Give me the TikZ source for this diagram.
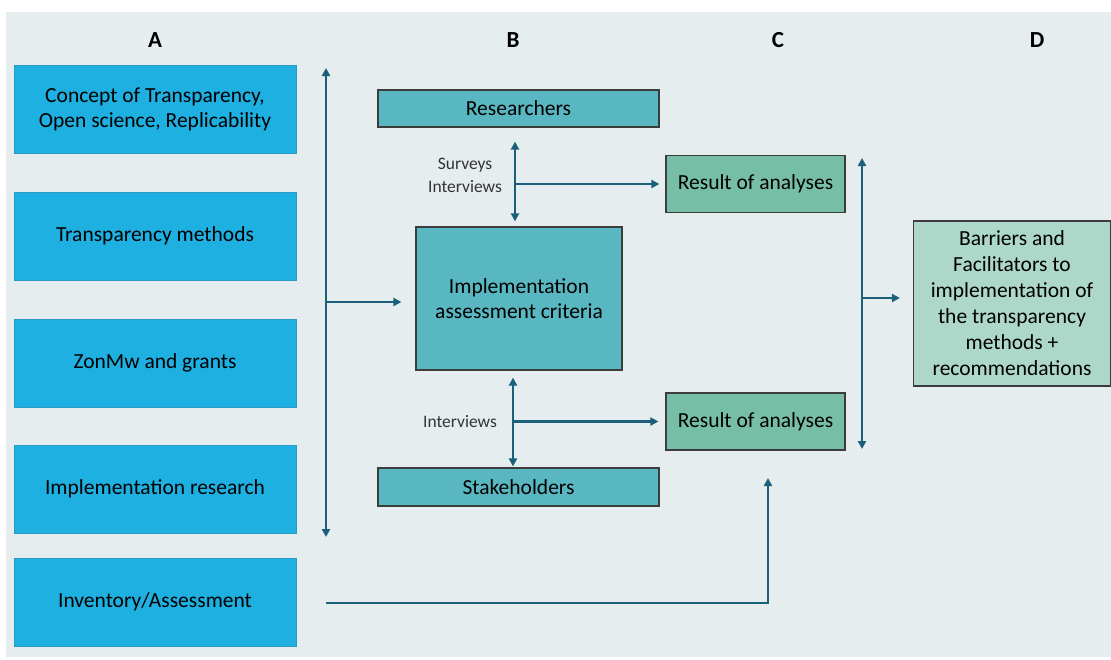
\documentclass[tikz,border=0pt]{standalone}
\usepackage{fontspec}
\setmainfont{Carlito}
\usetikzlibrary{positioning,arrows.meta}

\definecolor{panelbg}{HTML}{E5EDEF}
\definecolor{boxblue}{HTML}{1EB0E0}
\definecolor{edgeblue}{HTML}{2A9BC6}
\definecolor{boxteal}{HTML}{59B7C1}
\definecolor{boxgreen}{HTML}{76BFA6}
\definecolor{boxmint}{HTML}{ADD8C9}
\definecolor{arrowcol}{HTML}{1B5F7A}
\definecolor{edgegrey}{HTML}{3C3C3C}

\tikzset{
    topicbox/.style={draw=edgeblue, line width=1pt, fill=boxblue, minimum width=282pt, minimum height=88pt, align=center, font=\fontsize{21.5}{25.5}\selectfont},
    groupbox/.style={draw=edgegrey, line width=1.2pt, fill=boxteal, align=center, font=\fontsize{21.5}{25.5}\selectfont},
    resultbox/.style={draw=edgegrey, line width=1.2pt, fill=boxgreen, minimum width=179pt, minimum height=57pt, align=center, font=\fontsize{21.5}{25.5}\selectfont},
    colhead/.style={font=\fontsize{23}{27}\selectfont\bfseries},
    smalllabel/.style={align=center, text=black!80, font=\fontsize{17.5}{23}\selectfont},
    link/.style={draw=arrowcol, line width=2.4pt, -{Triangle[length=8pt,width=8pt]}},
    twoway/.style={draw=arrowcol, line width=2.4pt, {Triangle[length=8pt,width=8pt]}-{Triangle[length=8pt,width=8pt]}}
}

\begin{document}
\begin{tikzpicture}[x=1pt, y=-1pt]
        % Page and panel
        \fill[white] (0,0) rectangle (1111,659);
        \useasboundingbox (0,0) rectangle (1111,659);
        \fill[panelbg] (6,12) rectangle (1111,657);

        % Column headers
        \node[colhead] (hA) at (155,40) {A};
        \node[colhead] (hB) at (513,40) {B};
        \node[colhead] (hC) at (778,40) {C};
        \node[colhead] (hD) at (1037,40) {D};

        % Column A
        \node[topicbox] (concept) at (155,109.5) {Concept of Transparency,\\Open science, Replicability};
        \node[topicbox] (methods) at (155,236) {Transparency methods};
        \node[topicbox] (zonmw) at (155,363) {ZonMw and grants};
        \node[topicbox] (implres) at (155,489) {Implementation research};
        \node[topicbox] (inventory) at (155,602) {Inventory/Assessment};

        % Column B
        \node[groupbox, minimum width=281pt, minimum height=37pt] (researchers) at (518.5,108.5) {Researchers};
        \node[groupbox, minimum width=206pt, minimum height=143pt] (criteria) at (519,298.5) {Implementation\\assessment criteria};
        \node[groupbox, minimum width=281pt, minimum height=38pt] (stakeholders) at (518.5,487) {Stakeholders};

        \node[smalllabel] (survlbl) at (465,175) {Surveys\\Interviews};
        \node[smalllabel] (intlbl) at (460,422) {Interviews};

        % Column C
        \node[resultbox] (result1) at (755.5,184) {Result of analyses};
        \node[resultbox] (result2) at (755.5,421.5) {Result of analyses};

        % Column D
        \node[draw=edgegrey, line width=1.2pt, fill=boxmint, minimum width=197pt, minimum height=165pt, align=center, font=\fontsize{21.5}{26}\selectfont] (barriers) at (1012,303.5)
            {Barriers and\\Facilitators to\\implementation of\\the transparency\\methods +\\recommendations};

        % Left spine
        \coordinate (spineT) at (326,68);
        \coordinate (spineB) at (326,537);
        \coordinate (spineM) at (326,302);
        \draw[twoway] (spineT) -- (spineB);
        \draw[link, shorten >=14pt] (spineM) -- (spineM -| criteria.west);

        % Researchers <-> criteria
        \draw[twoway] ([shift={(-3.5pt,-14pt)}]researchers.south) -- ([shift={(-4pt,5pt)}]criteria.north);
        \coordinate (upfork) at (515,184);
        \draw[link, shorten >=6pt] (upfork) -- (result1.west);

        % criteria <-> stakeholders
        \draw[twoway] ([shift={(-6pt,-7pt)}]criteria.south) -- ([shift={(-5.5pt,1pt)}]stakeholders.north);
        \coordinate (lowfork) at (513,421.5);
        \draw[link, shorten >=7pt] (lowfork) -- (result2.west);

        % Right spine
        \coordinate (rspineT) at (862,158);
        \coordinate (rspineB) at (862,449);
        \coordinate (rspineM) at (862,298);
        \draw[twoway] (rspineT) -- (rspineB);
        \draw[link, shorten >=13pt] (rspineM) -- (rspineM -| barriers.west);

        % Inventory feed
        \coordinate (invstart) at (326,603);
        \coordinate (invend) at (768,478);
        \draw[link] (invstart) -| (invend);
    \end{tikzpicture}
\end{document}
